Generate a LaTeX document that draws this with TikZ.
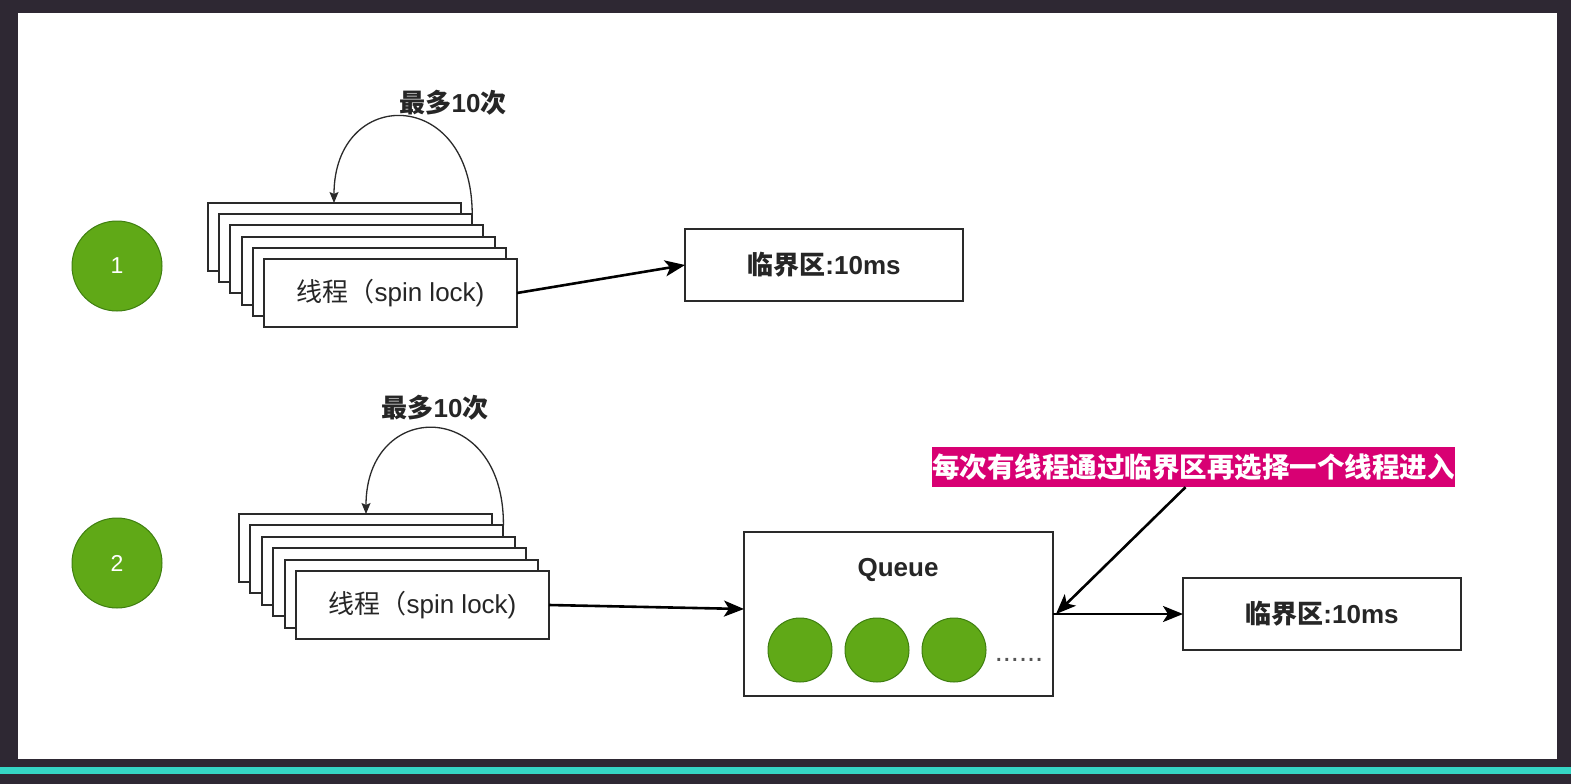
\documentclass[tikz,border=0pt]{standalone}
\usepackage{fontspec}
\setmainfont{Liberation Sans}
\newfontfamily\cjk{Noto Sans CJK SC}
\usetikzlibrary{arrows.meta,calc}
\definecolor{bgdark}{HTML}{2E2833}
\definecolor{tealc}{HTML}{35D6C5}
\definecolor{linec}{HTML}{2A2A2A}
\definecolor{dgreen}{HTML}{60A917}
\definecolor{dgreenb}{HTML}{3F7F10}
\definecolor{pinkc}{HTML}{D80073}
\definecolor{txtc}{HTML}{262626}
\definecolor{dotc}{HTML}{555555}
\begin{document}
\begin{tikzpicture}[x=1pt,y=-1pt,
  thr/.style={draw=linec, fill=white, line width=2pt, minimum width=253pt, minimum height=68pt, inner sep=0pt, outer sep=0pt, anchor=north west, text=txtc, font=\fontsize{26}{30}\selectfont},
  boxc/.style={draw=linec, fill=white, line width=1.8pt, inner sep=0pt, outer sep=0pt, text=txtc},
  num/.style={circle, fill=dgreen, draw=dgreenb, line width=1pt, minimum size=90pt, inner sep=0pt, text=white, font=\fontsize{23}{26}\selectfont},
  qball/.style={circle, fill=dgreen, draw=dgreenb, line width=1pt, minimum size=64pt, inner sep=0pt},
  arr/.style={line width=2.6pt, draw=black, -{Stealth[length=20pt,width=16pt,inset=5pt]}},
  loopar/.style={line width=1.3pt, draw=linec, -{Stealth[length=11pt,width=9pt,inset=2pt]}},
  bold26/.style={font=\fontsize{26}{30}\selectfont\bfseries, text=txtc, inner sep=0pt}
]
\useasboundingbox (0,0) rectangle (1571,784);
\fill[bgdark] (0,0) rectangle (1571,784);
\fill[white] (18,13) rectangle (1557,759);
\fill[tealc] (0,767) rectangle (1571,774);

% ---- row 1 ----
\node[num] (n1) at (117,266) {1};
\foreach \i in {1,...,5}
  \node[thr] (a\i) at ({208+11.2*(\i-1)},{203+11.2*(\i-1)}) {};
\node[thr] (a6) at ({208+11.2*5},{203+11.2*5}) {{\cjk 线程（}spin lock)};
\coordinate (a1t) at (334,203);
\draw[loopar] (a2.north east) .. controls (472.2,86) and (334,86) .. (a1t);
\node[bold26] (l1) at (453,103) {{\cjk 最多}10{\cjk 次}};
\node[boxc, minimum width=278pt, minimum height=72pt, font=\fontsize{26}{30}\selectfont\bfseries] (c1) at (824,265) {{\cjk 临界区}:10ms};
\draw[arr] (a6.east) -- (c1.west);

% ---- row 2 ----
\node[num] (n2) at (117,563) {2};
\foreach \i in {1,...,5}
  \node[thr] (b\i) at ({239+11.4*(\i-1)},{514+11.4*(\i-1)}) {};
\node[thr] (b6) at ({239+11.4*5},{514+11.4*5}) {{\cjk 线程（}spin lock)};
\coordinate (b1t) at (366,514);
\draw[loopar] (b2.north east) .. controls (504.4,398) and (366,398) .. (b1t);
\node[bold26] (l2) at (435,408) {{\cjk 最多}10{\cjk 次}};

\node[boxc, minimum width=309pt, minimum height=164pt] (q) at (898.5,614) {};
\node[bold26] (qt) at (898,570) {Queue};
\node[qball] (q1) at (800,650) {};
\node[qball] (q2) at (877,650) {};
\node[qball] (q3) at (954,650) {};
\node[anchor=base, inner sep=0pt, text=dotc, font=\fontsize{29}{32}\selectfont] (qd) at (1019,661) {......};

\node[boxc, minimum width=278pt, minimum height=72pt, font=\fontsize{26}{30}\selectfont\bfseries] (c2) at (1322,614) {{\cjk 临界区}:10ms};

\node[fill=pinkc, minimum width=523pt, minimum height=40pt, inner sep=0pt, text=white, font=\fontsize{27.5}{32}\selectfont\bfseries\cjk] (p) at (1193.5,467) {每次有线程通过临界区再选择一个线程进入};

\coordinate (qin) at ($(q.west)+(0,-5)$);
\draw[arr] (b6.east) -- (qin);
\draw[arr] (q.east) -- (c2.west);
\coordinate (ps) at ($(p.south)+(-8,0)$);
\draw[arr] (ps) -- ($(q.east)+(3,0)$);
\end{tikzpicture}
\end{document}
